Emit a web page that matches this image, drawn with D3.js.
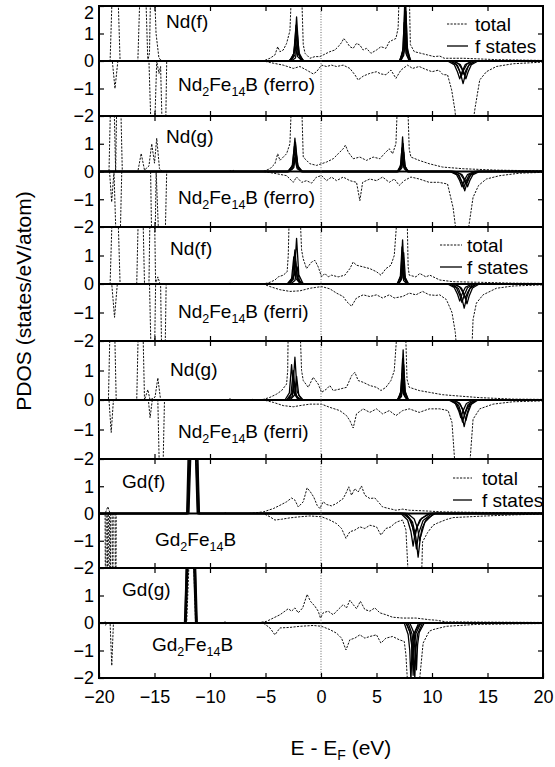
<!DOCTYPE html>
<html>
<head>
<meta charset="utf-8">
<script src="https://cdn.jsdelivr.net/npm/d3@7"></script>
<style>
  body { margin: 0; background: #fff; }
  svg { display: block; }
  text { font-family: "Liberation Sans", Arial, Helvetica, sans-serif; fill: #000; }
</style>
</head>
<body>
<svg id="chart" width="555" height="767"></svg>
<script>
// ---------------- data ----------------
const energyTicks = [-20, -15, -10, -5, 0, 5, 10, 15, 20];
const dosTicks = [-2, -1, 0, 1, 2];
const siteLabels = ["Nd(f)", "Nd(g)", "Nd(f)", "Nd(g)", "Gd(f)", "Gd(g)"];
// compound names as [text, subscript?] pieces
const compoundLabels = [
  [["Nd", 0], ["2", 1], ["Fe", 0], ["14", 1], ["B (ferro)", 0]],
  [["Nd", 0], ["2", 1], ["Fe", 0], ["14", 1], ["B (ferro)", 0]],
  [["Nd", 0], ["2", 1], ["Fe", 0], ["14", 1], ["B (ferri)", 0]],
  [["Nd", 0], ["2", 1], ["Fe", 0], ["14", 1], ["B (ferri)", 0]],
  [["Gd", 0], ["2", 1], ["Fe", 0], ["14", 1], ["B", 0]],
  [["Gd", 0], ["2", 1], ["Fe", 0], ["14", 1], ["B", 0]]
];
const legendLabels = ["total", "f states"];

// total DOS, majority (up) and minority (down) spin: [E - EF (eV), states/eV/atom]
const totUp_NdF_ferro = [[-20,0],[-19.0,0],[-18.8,2.6],[-18.55,7],[-18.3,2.6],[-18.1,0],[-16.5,0],[-16.3,2.6],[-16.05,7],[-15.8,2.6],[-15.6,0],[-15.45,0.3],[-15.35,2.6],[-15.2,6],[-15.0,2.6],[-14.86,1.0],[-14.6,0.1],[-14.3,0],[-8.3,0],[-8.2,0.04],[-8.1,0],[-6.5,0],[-6.4,0.03],[-6.3,0],[-5.2,0],[-4.6,0.1],[-4.15,0.22],[-3.9,0.52],[-3.7,0.34],[-3.4,0.4],[-3.1,0.64],[-2.8,1.1],[-2.65,2.6],[-2.2,8],[-1.75,2.6],[-1.6,0.6],[-1.44,0.28],[-1.0,0.1],[-0.55,0.16],[-0.1,0.16],[0.2,0.22],[0.8,0.34],[1.25,0.4],[1.55,0.52],[1.85,0.67],[2.05,0.82],[2.3,0.7],[2.6,0.52],[2.9,0.46],[3.2,0.64],[3.5,0.58],[3.8,0.4],[4.1,0.46],[4.5,0.28],[5.0,0.4],[5.4,0.52],[5.85,0.46],[6.15,0.7],[6.45,0.76],[6.75,0.82],[6.95,1.2],[7.05,2.6],[7.5,8],[7.95,2.6],[8.05,0.6],[8.4,0.34],[9.0,0.28],[9.6,0.22],[10.2,0.16],[10.7,0.18],[11.1,0.1],[12.8,0.1],[15.8,0.05],[20,0.02]];
const totDn_NdF_ferro = [[-20,0],[-18.8,0],[-18.56,-1.0],[-18.3,0],[-15.5,0],[-15.3,-2.6],[-15.15,-7],[-15.0,-2.6],[-14.8,0],[-14.6,-0.45],[-14.45,-0.2],[-14.3,-2.6],[-14.15,-6],[-14.0,-2.6],[-13.9,0],[-5.2,0],[-4.3,-0.08],[-3.4,-0.15],[-2.5,-0.27],[-1.9,-0.2],[-1.3,-0.33],[-0.7,-0.47],[-0.4,-0.39],[0.05,-0.15],[0.5,-0.2],[0.95,-0.15],[1.4,-0.2],[2.0,-0.15],[2.6,-0.27],[3.05,-0.5],[3.35,-0.69],[3.8,-0.55],[4.4,-0.45],[5.0,-0.39],[5.4,-0.47],[5.85,-0.5],[6.3,-0.33],[6.75,-0.63],[7.2,-0.33],[7.8,-0.15],[8.25,-0.27],[8.85,-0.2],[9.4,-0.3],[10.0,-0.39],[10.6,-0.33],[11.0,-0.5],[11.4,-0.5],[11.77,-1.05],[12.07,-1.8],[12.25,-2.6],[12.9,-8],[13.55,-2.6],[13.9,-1.66],[14.3,-0.69],[14.9,-0.39],[15.8,-0.2],[17.3,-0.1],[20,-0.04]];

const totUp_NdG_ferro = [[-20,0],[-19.1,0],[-18.95,2.6],[-18.8,6],[-18.65,2.6],[-18.5,0],[-18.4,2.6],[-18.22,6],[-18.05,2.6],[-17.9,0],[-16.5,0],[-16.2,0.65],[-15.9,0.05],[-15.5,0.2],[-15.25,1.0],[-15.0,0.3],[-14.8,1.2],[-14.55,0.1],[-14.3,0],[-8.3,0],[-8.2,0.05],[-8.1,0],[-7.9,0.04],[-7.8,0],[-5.2,0],[-4.6,0.1],[-4.15,0.28],[-3.9,0.64],[-3.7,0.4],[-3.1,0.64],[-2.8,1.0],[-2.65,2.6],[-2.2,8],[-1.75,2.6],[-1.6,0.52],[-1.0,0.28],[-0.4,0.22],[0.05,0.28],[0.5,0.34],[1.1,0.46],[1.55,0.64],[2.0,0.82],[2.2,0.95],[2.45,0.7],[2.9,0.46],[3.5,0.52],[4.1,0.4],[4.7,0.52],[5.3,0.46],[5.7,0.64],[6.15,0.82],[6.45,0.64],[6.75,1.0],[6.9,2.6],[7.35,8],[7.8,2.6],[7.95,0.8],[8.1,0.52],[8.85,0.4],[9.75,0.28],[10.95,0.16],[12.8,0.1],[15.8,0.05],[20,0.02]];
const totDn_NdG_ferro = [[-20,0],[-19.05,0],[-18.86,-1.1],[-18.65,0],[-18.45,-2.6],[-18.26,-6],[-18.1,-2.6],[-17.95,0],[-15.35,0],[-15.25,-2.6],[-15.1,-6],[-14.95,-2.6],[-14.85,0],[-14.6,-2.6],[-14.3,-6],[-14.05,-2.6],[-13.9,0],[-5.2,0],[-4.0,-0.08],[-3.1,-0.15],[-2.5,-0.39],[-2.2,-0.2],[-1.74,-0.39],[-1.3,-0.33],[-0.85,-0.42],[-0.4,-0.2],[0.05,-0.15],[0.5,-0.33],[0.95,-0.2],[1.4,-0.33],[2.0,-0.2],[2.6,-0.33],[3.2,-0.39],[3.5,-1.05],[3.75,-0.39],[4.4,-0.27],[5.0,-0.33],[5.55,-0.2],[6.15,-0.39],[6.6,-0.27],[7.05,-0.5],[7.5,-0.33],[8.1,-0.2],[8.85,-0.27],[9.75,-0.39],[10.6,-0.39],[11.4,-0.45],[11.9,-1.3],[12.15,-2.1],[12.7,-6],[13.27,-2.1],[13.7,-0.93],[14.2,-0.5],[14.9,-0.27],[16.1,-0.15],[17.9,-0.06],[20,-0.03]];

const totUp_NdF_ferri = [[-20,0],[-19.0,0],[-18.8,2.6],[-18.55,7],[-18.3,2.6],[-18.1,0],[-16.6,0],[-16.45,2.6],[-16.25,7],[-16.05,2.6],[-15.9,0],[-15.5,0],[-15.4,2.6],[-15.2,7],[-15.0,2.6],[-14.9,0],[-14.7,0.25],[-14.5,0],[-8.3,0],[-8.2,0.05],[-8.1,0],[-5.2,0],[-4.6,0.06],[-4.15,0.14],[-3.85,0.25],[-3.4,0.31],[-3.05,0.43],[-2.95,1.0],[-2.85,2.6],[-2.4,8],[-1.9,2.6],[-1.75,1.2],[-1.6,0.88],[-1.3,0.54],[-0.85,0.77],[-0.55,0.83],[-0.25,0.6],[0.05,0.25],[0.35,0.37],[0.65,0.25],[0.95,0.31],[1.55,0.25],[2.15,0.31],[2.6,0.54],[2.9,0.77],[3.2,0.66],[3.8,0.6],[4.4,0.54],[5.0,0.43],[5.4,0.31],[5.85,0.54],[6.3,0.66],[6.6,1.0],[6.9,2.6],[7.35,8],[7.75,2.6],[7.85,0.6],[7.95,0.31],[8.55,0.25],[8.9,0.37],[9.45,0.25],[9.8,0.31],[10.7,0.14],[11.9,0.08],[14.3,0.06],[17.3,0.03],[20,0.02]];
const totDn_NdF_ferri = [[-20,0],[-18.85,0],[-18.6,-1.17],[-18.35,0],[-15.45,0],[-15.3,-2.6],[-15.15,-7],[-15.0,-2.6],[-14.9,0],[-14.45,0],[-14.35,-2.6],[-14.2,-7],[-14.05,-2.6],[-13.95,0],[-5.2,0],[-4.6,-0.09],[-3.7,-0.2],[-2.8,-0.26],[-1.9,-0.24],[-1.0,-0.15],[0.05,-0.09],[0.8,-0.17],[1.4,-0.32],[2.0,-0.44],[2.3,-0.61],[2.75,-0.78],[3.2,-0.49],[3.8,-0.38],[4.4,-0.44],[5.0,-0.38],[5.55,-0.49],[6.15,-0.38],[6.6,-0.49],[7.35,-0.44],[7.95,-0.32],[8.55,-0.38],[9.15,-0.26],[9.75,-0.38],[10.35,-0.4],[10.7,-0.38],[11.3,-0.55],[11.8,-1.0],[12.1,-1.7],[12.2,-2.2],[12.85,-7],[13.6,-2.2],[13.7,-1.24],[14.0,-0.67],[14.6,-0.38],[15.8,-0.15],[17.3,-0.07],[20,-0.03]];

const totUp_NdG_ferri = [[-20,0],[-19.15,0],[-19.0,2.6],[-18.8,7],[-18.6,2.6],[-18.45,0],[-16.6,0],[-16.45,2.6],[-16.25,7],[-16.05,2.6],[-15.9,0],[-15.6,0.35],[-15.4,0],[-14.95,0.1],[-14.7,0.75],[-14.45,0],[-8.3,0],[-8.2,0.05],[-8.1,0],[-6.3,0],[-6.2,0.03],[-6.1,0],[-5.2,0.02],[-4.6,0.09],[-4.0,0.2],[-3.55,0.32],[-3.1,0.54],[-3.0,1.0],[-2.95,2.6],[-2.45,8],[-1.9,2.6],[-1.75,1.0],[-1.6,0.66],[-1.15,0.43],[-0.7,0.77],[-0.25,0.54],[0.05,0.26],[0.5,0.37],[0.8,0.49],[1.1,0.32],[1.7,0.37],[2.3,0.43],[2.75,0.82],[3.05,0.94],[3.35,0.66],[3.8,0.6],[4.4,0.49],[5.0,0.43],[5.4,0.32],[5.85,0.43],[6.3,0.66],[6.6,0.99],[6.9,2.6],[7.25,8],[7.6,2.6],[7.75,0.7],[7.95,0.43],[8.85,0.32],[9.75,0.26],[10.95,0.18],[11.9,0.15],[14.3,0.08],[17.3,0.03],[20,0.02]];
const totDn_NdG_ferri = [[-20,0],[-19.1,0],[-18.9,-1.1],[-18.7,0],[-15.55,0],[-15.4,-0.6],[-15.2,0],[-14.7,0],[-14.55,-2.6],[-14.4,-7],[-14.25,-2.6],[-14.1,0],[-5.2,0],[-4.3,-0.08],[-3.4,-0.19],[-2.5,-0.23],[-1.9,-0.19],[-1.0,-0.14],[0.05,-0.14],[0.8,-0.25],[1.7,-0.36],[2.3,-0.53],[2.6,-0.7],[2.9,-0.95],[3.2,-0.47],[3.8,-0.3],[4.4,-0.42],[5.0,-0.3],[5.55,-0.47],[6.15,-0.36],[6.75,-0.53],[7.35,-0.36],[7.95,-0.3],[8.85,-0.42],[9.75,-0.3],[10.7,-0.3],[11.45,-0.36],[11.8,-0.76],[12.07,-2.2],[12.7,-7],[13.4,-2.2],[13.7,-0.65],[14.3,-0.3],[15.5,-0.14],[17.3,-0.06],[20,-0.03]];

const totUp_GdF = [[-20,0],[-19.45,0],[-19.2,0.25],[-19.0,0],[-12.0,0],[-11.7,2.6],[-11.5,9],[-11.3,2.6],[-11.0,0],[-8.75,0],[-8.65,0.05],[-8.55,0],[-6.5,0],[-5.2,0.06],[-4.3,0.18],[-3.7,0.3],[-3.1,0.43],[-2.65,0.57],[-2.35,0.49],[-2.05,0.24],[-1.6,0.43],[-1.25,0.94],[-0.95,0.79],[-0.65,0.6],[-0.35,0.3],[-0.1,0.18],[0.2,0.43],[0.5,0.33],[0.95,0.28],[1.4,0.37],[2.0,0.55],[2.3,0.79],[2.5,0.98],[2.75,0.67],[3.05,0.91],[3.35,0.79],[3.65,1.01],[3.95,0.67],[4.4,0.55],[4.85,0.57],[5.15,0.43],[5.55,0.24],[6.15,0.18],[6.75,0.12],[7.35,0.16],[7.95,0.12],[9.15,0.1],[10.95,0.06],[14.3,0.04],[20,0.02]];
const totDn_GdF = [[-20,0],[-19.45,0],[-19.4,-6],[-19.35,0],[-19.25,0],[-19.2,-6],[-19.15,0],[-19.05,0],[-19.0,-6],[-18.95,0],[-18.82,0],[-18.77,-6],[-18.72,0],[-18.55,0],[-18.5,-6],[-18.45,0],[-5.2,0],[-4.6,-0.12],[-4.15,-0.24],[-3.55,-0.21],[-2.8,-0.16],[-1.9,-0.12],[-1.0,-0.09],[0.05,-0.12],[0.8,-0.24],[1.4,-0.37],[1.85,-0.55],[2.25,-0.91],[2.6,-0.67],[3.05,-0.61],[3.5,-0.49],[3.95,-0.55],[4.4,-0.43],[5.0,-0.49],[5.4,-0.79],[5.85,-0.55],[6.3,-0.49],[6.6,-0.37],[6.9,-0.3],[7.35,-0.24],[7.65,-0.6],[7.85,-2.2],[8.45,-8],[9.07,-2.2],[9.15,-1.04],[9.6,-0.7],[10.1,-0.43],[10.5,-0.35],[11.3,-0.22],[11.9,-0.15],[14.3,-0.1],[17.3,-0.05],[20,-0.02]];

const totUp_GdG = [[-20,0],[-19.6,0],[-19.45,0.05],[-19.3,0],[-12.1,0],[-11.85,2.6],[-11.7,9],[-11.5,2.6],[-11.3,0],[-8.75,0],[-8.65,0.05],[-8.55,0],[-5.8,0],[-4.9,0.06],[-4.3,0.18],[-3.7,0.3],[-3.25,0.43],[-2.95,0.52],[-2.65,0.43],[-2.35,0.55],[-2.05,0.37],[-1.65,0.55],[-1.25,1.04],[-0.95,0.79],[-0.55,0.61],[-0.25,0.43],[-0.05,0.18],[0.2,0.37],[0.65,0.43],[1.1,0.3],[1.55,0.49],[2.0,0.67],[2.3,0.55],[2.6,0.83],[2.9,0.67],[3.2,0.52],[3.55,0.79],[3.95,0.49],[4.4,0.43],[4.85,0.55],[5.3,0.37],[5.85,0.3],[6.45,0.21],[7.35,0.18],[8.55,0.18],[9.75,0.12],[10.4,0.1],[11.3,0.04],[20,0.02]];
const totDn_GdG = [[-20,0],[-19.6,0],[-19.45,-0.08],[-19.2,0],[-19.0,0],[-18.85,-1.55],[-18.7,0],[-5.2,0],[-4.6,-0.18],[-4.15,-0.43],[-3.7,-0.18],[-2.8,-0.16],[-1.9,-0.12],[-0.7,-0.09],[0.05,-0.12],[0.8,-0.24],[1.4,-0.37],[1.85,-0.55],[2.25,-0.98],[2.6,-0.61],[3.05,-0.55],[3.5,-0.43],[3.95,-0.55],[4.4,-0.49],[5.0,-0.43],[5.4,-0.73],[5.85,-0.55],[6.45,-0.49],[7.05,-0.61],[7.5,-0.67],[7.65,-1.16],[7.8,-2.2],[8.3,-8],[8.85,-2.2],[9.2,-0.73],[9.75,-0.3],[10.1,-0.24],[11.3,-0.12],[14,-0.05],[20,-0.02]];

// f-orbital projected DOS, one polyline per orbital (up > 0, down < 0)
const fStates_NdF_ferro = [
  [[-20,0],[-2.8,0],[-2.4,0.32],[-2.2,1.6],[-2.0,0.32],[-1.6,0],[7.15,0],[7.45,0.52],[7.6,2.6],[7.75,0.52],[8.05,0],[11.7,0],[12.3,-0.16],[12.6,-0.5],[12.8,-0.82],[13.0,-0.5],[13.3,-0.16],[13.9,0],[20,0]],
  [[-20,0],[-2.85,0],[-2.45,0.26],[-2.25,1.3],[-2.05,0.26],[-1.65,0],[7.1,0],[7.4,0.44],[7.55,2.2],[7.7,0.44],[8.0,0],[11.4,0],[12.0,-0.13],[12.3,-0.4],[12.5,-0.65],[12.7,-0.4],[13.0,-0.13],[13.6,0],[20,0]],
  [[-20,0],[-2.75,0],[-2.35,0.21],[-2.15,1.05],[-1.95,0.21],[-1.55,0],[7.2,0],[7.5,0.36],[7.65,1.8],[7.8,0.36],[8.1,0],[11.95,0],[12.55,-0.13],[12.85,-0.4],[13.05,-0.65],[13.25,-0.4],[13.55,-0.13],[14.15,0],[20,0]],
  [[-20,0],[-2.9,0],[-2.5,0.16],[-2.3,0.8],[-2.1,0.16],[-1.7,0],[7.05,0],[7.35,0.28],[7.5,1.4],[7.65,0.28],[7.95,0],[11.55,0],[12.15,-0.11],[12.45,-0.33],[12.65,-0.55],[12.85,-0.33],[13.15,-0.11],[13.75,0],[20,0]],
  [[-20,0],[-2.7,0],[-2.3,0.11],[-2.1,0.55],[-1.9,0.11],[-1.5,0],[7.15,0],[7.45,0.2],[7.6,1.0],[7.75,0.2],[8.05,0],[11.8,0],[12.4,-0.1],[12.7,-0.3],[12.9,-0.5],[13.1,-0.3],[13.4,-0.1],[14.0,0],[20,0]]
];
const fStates_NdG_ferro = [
  [[-20,0],[-2.95,0],[-2.55,0.24],[-2.35,1.2],[-2.15,0.24],[-1.75,0],[6.9,0],[7.2,0.25],[7.35,1.25],[7.5,0.25],[7.8,0],[11.85,0],[12.45,-0.14],[12.75,-0.42],[12.95,-0.7],[13.15,-0.42],[13.45,-0.14],[14.05,0],[20,0]],
  [[-20,0],[-2.9,0],[-2.5,0.21],[-2.3,1.05],[-2.1,0.21],[-1.7,0],[6.95,0],[7.25,0.2],[7.4,1.0],[7.55,0.2],[7.85,0],[11.6,0],[12.2,-0.11],[12.5,-0.33],[12.7,-0.55],[12.9,-0.33],[13.2,-0.11],[13.8,0],[20,0]],
  [[-20,0],[-3.0,0],[-2.6,0.18],[-2.4,0.9],[-2.2,0.18],[-1.8,0],[6.85,0],[7.15,0.17],[7.3,0.85],[7.45,0.17],[7.75,0],[12.1,0],[12.7,-0.11],[13.0,-0.33],[13.2,-0.55],[13.4,-0.33],[13.7,-0.11],[14.3,0],[20,0]],
  [[-20,0],[-2.85,0],[-2.45,0.14],[-2.25,0.7],[-2.05,0.14],[-1.65,0],[7.0,0],[7.3,0.14],[7.45,0.7],[7.6,0.14],[7.9,0],[11.75,0],[12.35,-0.12],[12.65,-0.36],[12.85,-0.6],[13.05,-0.36],[13.35,-0.12],[13.95,0],[20,0]],
  [[-20,0],[-2.95,0],[-2.55,0.1],[-2.35,0.5],[-2.15,0.1],[-1.75,0],[6.9,0],[7.2,0.1],[7.35,0.5],[7.5,0.1],[7.8,0],[11.95,0],[12.55,-0.09],[12.85,-0.27],[13.05,-0.45],[13.25,-0.27],[13.55,-0.09],[14.15,0],[20,0]]
];
const fStates_NdF_ferri = [
  [[-20,0],[-2.8,0],[-2.4,0.32],[-2.2,1.6],[-2.0,0.32],[-1.6,0],[6.9,0],[7.2,0.31],[7.35,1.55],[7.5,0.31],[7.8,0],[11.8,0],[12.4,-0.17],[12.7,-0.51],[12.9,-0.85],[13.1,-0.51],[13.4,-0.17],[14.0,0],[20,0]],
  [[-20,0],[-2.95,0],[-2.55,0.24],[-2.35,1.2],[-2.15,0.24],[-1.75,0],[6.85,0],[7.15,0.26],[7.3,1.3],[7.45,0.26],[7.75,0],[11.4,0],[12.0,-0.12],[12.3,-0.36],[12.5,-0.6],[12.7,-0.36],[13.0,-0.12],[13.6,0],[20,0]],
  [[-20,0],[-3.05,0],[-2.65,0.19],[-2.45,0.95],[-2.25,0.19],[-1.85,0],[7.0,0],[7.3,0.22],[7.45,1.1],[7.6,0.22],[7.9,0],[12.05,0],[12.65,-0.14],[12.95,-0.42],[13.15,-0.7],[13.35,-0.42],[13.65,-0.14],[14.25,0],[20,0]],
  [[-20,0],[-2.9,0],[-2.5,0.16],[-2.3,0.8],[-2.1,0.16],[-1.7,0],[6.95,0],[7.25,0.16],[7.4,0.8],[7.55,0.16],[7.85,0],[11.6,0],[12.2,-0.13],[12.5,-0.39],[12.7,-0.65],[12.9,-0.39],[13.2,-0.13],[13.8,0],[20,0]],
  [[-20,0],[-2.75,0],[-2.35,0.12],[-2.15,0.6],[-1.95,0.12],[-1.55,0],[6.85,0],[7.15,0.12],[7.3,0.6],[7.45,0.12],[7.75,0],[11.9,0],[12.5,-0.1],[12.8,-0.3],[13.0,-0.5],[13.2,-0.3],[13.5,-0.1],[14.1,0],[20,0]]
];
const fStates_NdG_ferri = [
  [[-20,0],[-2.95,0],[-2.55,0.29],[-2.35,1.45],[-2.15,0.29],[-1.75,0],[6.95,0],[7.25,0.34],[7.4,1.7],[7.55,0.34],[7.85,0],[11.8,0],[12.4,-0.18],[12.7,-0.54],[12.9,-0.9],[13.1,-0.54],[13.4,-0.18],[14.0,0],[20,0]],
  [[-20,0],[-3.25,0],[-2.85,0.24],[-2.65,1.2],[-2.45,0.24],[-2.05,0],[6.9,0],[7.2,0.28],[7.35,1.4],[7.5,0.28],[7.8,0],[11.65,0],[12.25,-0.15],[12.55,-0.45],[12.75,-0.75],[12.95,-0.45],[13.25,-0.15],[13.85,0],[20,0]],
  [[-20,0],[-3.1,0],[-2.7,0.2],[-2.5,1.0],[-2.3,0.2],[-1.9,0],[7.0,0],[7.3,0.24],[7.45,1.2],[7.6,0.24],[7.9,0],[11.95,0],[12.55,-0.14],[12.85,-0.42],[13.05,-0.7],[13.25,-0.42],[13.55,-0.14],[14.15,0],[20,0]],
  [[-20,0],[-2.8,0],[-2.4,0.16],[-2.2,0.8],[-2.0,0.16],[-1.6,0],[6.85,0],[7.15,0.18],[7.3,0.9],[7.45,0.18],[7.75,0],[11.5,0],[12.1,-0.12],[12.4,-0.36],[12.6,-0.6],[12.8,-0.36],[13.1,-0.12],[13.7,0],[20,0]],
  [[-20,0],[-3.0,0],[-2.6,0.12],[-2.4,0.6],[-2.2,0.12],[-1.8,0],[6.95,0],[7.25,0.12],[7.4,0.6],[7.55,0.12],[7.85,0],[11.85,0],[12.45,-0.1],[12.75,-0.3],[12.95,-0.5],[13.15,-0.3],[13.45,-0.1],[14.05,0],[20,0]]
];
const fStates_GdF = [
  [[-20,0],[-12.1,0],[-11.55,9],[-11.0,0],[7.65,0],[8.25,-0.32],[8.55,-0.88],[8.75,-1.6],[8.95,-0.88],[9.35,-0.32],[10.15,0],[20,0]],
  [[-20,0],[-12.0,0],[-11.5,8],[-11.05,0],[7.2,0],[7.8,-0.24],[8.1,-0.66],[8.3,-1.2],[8.5,-0.66],[8.9,-0.24],[9.7,0],[20,0]],
  [[-20,0],[-11.95,0],[-11.45,7],[-10.95,0],[7.5,0],[8.1,-0.26],[8.4,-0.72],[8.6,-1.3],[8.8,-0.72],[9.2,-0.26],[10.0,0],[20,0]],
  [[-20,0],[-12.05,0],[-11.6,6],[-11.15,0],[7.8,0],[8.4,-0.2],[8.7,-0.55],[8.9,-1.0],[9.1,-0.55],[9.5,-0.2],[10.3,0],[20,0]],
  [[-20,0],[-11.9,0],[-11.5,5],[-11.1,0],[7.35,0],[7.95,-0.18],[8.25,-0.5],[8.45,-0.9],[8.65,-0.5],[9.05,-0.18],[9.85,0],[20,0]]
];
const fStates_GdG = [
  [[-20,0],[-12.25,0],[-11.75,9],[-11.25,0],[7.5,0],[7.85,-0.42],[8.0,-1.0],[8.1,-2.1],[8.2,-1.0],[8.35,-0.42],[8.8,0],[20,0]],
  [[-20,0],[-12.2,0],[-11.7,8],[-11.2,0],[7.7,0],[8.05,-0.38],[8.2,-0.9],[8.3,-1.9],[8.4,-0.9],[8.55,-0.38],[9.0,0],[20,0]],
  [[-20,0],[-12.15,0],[-11.65,7],[-11.15,0],[7.85,0],[8.2,-0.4],[8.35,-0.95],[8.45,-2.0],[8.55,-0.95],[8.7,-0.4],[9.15,0],[20,0]],
  [[-20,0],[-12.3,0],[-11.8,6],[-11.3,0],[8.0,0],[8.35,-0.34],[8.5,-0.8],[8.6,-1.7],[8.7,-0.8],[8.85,-0.34],[9.3,0],[20,0]],
  [[-20,0],[-12.2,0],[-11.7,5],[-11.2,0],[7.65,0],[8.0,-0.3],[8.15,-0.7],[8.25,-1.5],[8.35,-0.7],[8.5,-0.3],[8.95,0],[20,0]]
];

const totalUp = [totUp_NdF_ferro, totUp_NdG_ferro, totUp_NdF_ferri, totUp_NdG_ferri, totUp_GdF, totUp_GdG];
const totalDn = [totDn_NdF_ferro, totDn_NdG_ferro, totDn_NdF_ferri, totDn_NdG_ferri, totDn_GdF, totDn_GdG];
const fStates = [fStates_NdF_ferro, fStates_NdG_ferro, fStates_NdF_ferri, fStates_NdG_ferri, fStates_GdF, fStates_GdG];

// ---------------- layout ----------------
const plotLeft = 99, plotRight = 543;
const panelEdges = [6, 116, 227, 341, 459, 568, 678];
const sitePos = [[166, 28], [166, 143], [170, 255], [170, 376], [122, 488], [122, 596]];
const compoundPos = [[178, 91], [178, 204], [178, 318], [178, 438], [155, 546], [152, 651]];
// legend: [line x0, line x1, text x, first row y]; null = no legend
const legendPos = [[447, 468, 475, 24], null, [440, 462, 467, 245], null, [453, 472, 482, 478], null];
const legendRow = 22;

const svg = d3.select("#chart");
const x = d3.scaleLinear().domain([-20, 20]).range([plotLeft, plotRight]);

const totalStyle = sel => sel.attr("fill", "none").attr("stroke", "#111")
  .attr("stroke-width", 1).attr("stroke-dasharray", "2.2,1.3");
const fStyle = sel => sel.attr("fill", "none").attr("stroke", "#000")
  .attr("stroke-width", 1.3).attr("stroke-linejoin", "round");

const defs = svg.append("defs");
const panelScales = [];

siteLabels.forEach((site, i) => {
  const top = panelEdges[i], bot = panelEdges[i + 1];
  const y = d3.scaleLinear().domain([-2, 2]).range([bot, top]);
  panelScales.push(y);
  const line = d3.line().x(d => x(d[0])).y(d => y(d[1]));

  defs.append("clipPath").attr("id", "clip" + i)
    .append("rect").attr("x", plotLeft).attr("y", top)
    .attr("width", plotRight - plotLeft).attr("height", bot - top);

  const plot = svg.append("g").attr("clip-path", `url(#clip${i})`);
  plot.append("path").datum(totalUp[i]).attr("d", line).call(totalStyle);
  plot.append("path").datum(totalDn[i]).attr("d", line).call(totalStyle);
  plot.selectAll("path.f").data(fStates[i]).join("path").attr("class", "f")
    .attr("d", line).call(fStyle);
  plot.append("line").attr("x1", plotLeft).attr("x2", plotRight)
    .attr("y1", y(0)).attr("y2", y(0)).attr("stroke", "#000").attr("stroke-width", 2.2);
});

// Fermi level
svg.append("line").attr("x1", x(0)).attr("x2", x(0))
  .attr("y1", panelEdges[0]).attr("y2", panelEdges[6])
  .attr("stroke", "#666").attr("stroke-width", 1).attr("stroke-dasharray", "1,1.6");

siteLabels.forEach((site, i) => {
  const top = panelEdges[i], bot = panelEdges[i + 1];
  const y = panelScales[i];
  const last = i === siteLabels.length - 1;

  // inward ticks on all four sides
  const left = d3.axisLeft(y).tickValues(i === 0 ? dosTicks : dosTicks.slice(0, 4))
    .tickSizeInner(-5).tickSizeOuter(0).tickPadding(5).tickFormat(d3.format("d"));
  const gl = svg.append("g").attr("transform", `translate(${plotLeft},0)`).call(left);
  // the topmost label sits just inside the frame
  gl.selectAll(".tick").filter(d => d === 2).select("text").attr("y", 7);
  const right = d3.axisRight(y).tickValues([-1, 1]).tickSizeInner(-5).tickSizeOuter(0).tickFormat("");
  const gr = svg.append("g").attr("transform", `translate(${plotRight},0)`).call(right);
  const topAx = d3.axisTop(x).tickValues(energyTicks.slice(1, -1)).tickSizeInner(-5).tickSizeOuter(0).tickFormat("");
  const gt = svg.append("g").attr("transform", `translate(0,${top})`).call(topAx);
  const botAx = d3.axisBottom(x).tickValues(last ? energyTicks : energyTicks.slice(1, -1))
    .tickSizeInner(-5).tickSizeOuter(0).tickPadding(12)
    .tickFormat(last ? d3.format("d") : "");
  const gb = svg.append("g").attr("transform", `translate(0,${bot})`).call(botAx);
  [gl, gr, gt, gb].forEach(g => {
    g.select(".domain").remove();
    g.selectAll(".tick line").attr("stroke", "#000").attr("stroke-width", 1.2);
    g.selectAll(".tick text").attr("font-size", 18).attr("font-family", null).attr("fill", "#000");
  });

  // frame
  svg.append("rect").attr("x", plotLeft).attr("y", top)
    .attr("width", plotRight - plotLeft).attr("height", bot - top)
    .attr("fill", "none").attr("stroke", "#000").attr("stroke-width", 2);

  // site label
  svg.append("text").attr("x", sitePos[i][0]).attr("y", sitePos[i][1])
    .attr("font-size", 19).text(site);

  // compound label with subscripts
  const ct = svg.append("text").attr("x", compoundPos[i][0]).attr("y", compoundPos[i][1])
    .attr("font-size", 19);
  let lowered = false;
  compoundLabels[i].forEach(([s, sub]) => {
    const ts = ct.append("tspan").text(s);
    if (sub) { ts.attr("font-size", 12.5); if (!lowered) { ts.attr("dy", 5); lowered = true; } }
    else if (lowered) { ts.attr("dy", -5); lowered = false; }
  });

  // legend
  const lg = legendPos[i];
  if (lg) {
    const [lx0, lx1, tx, ly] = lg;
    svg.append("line").attr("x1", lx0).attr("x2", lx1).attr("y1", ly).attr("y2", ly).call(totalStyle);
    svg.append("line").attr("x1", lx0).attr("x2", lx1).attr("y1", ly + legendRow).attr("y2", ly + legendRow).call(fStyle);
    svg.append("text").attr("x", tx).attr("y", ly + 6.5).attr("font-size", 19).text(legendLabels[0]);
    svg.append("text").attr("x", tx).attr("y", ly + legendRow + 6.5).attr("font-size", 19).text(legendLabels[1]);
  }
});

// axis titles
svg.append("text").attr("transform", "translate(31,301) rotate(-90)")
  .attr("text-anchor", "middle").attr("font-size", 21).text("PDOS (states/eV/atom)");
const xt = svg.append("text").attr("x", 341).attr("y", 755)
  .attr("text-anchor", "middle").attr("font-size", 21);
xt.append("tspan").text("E - E");
xt.append("tspan").attr("font-size", 14).attr("dy", 5).text("F");
xt.append("tspan").attr("dy", -5).text(" (eV)");
</script>
</body>
</html>
